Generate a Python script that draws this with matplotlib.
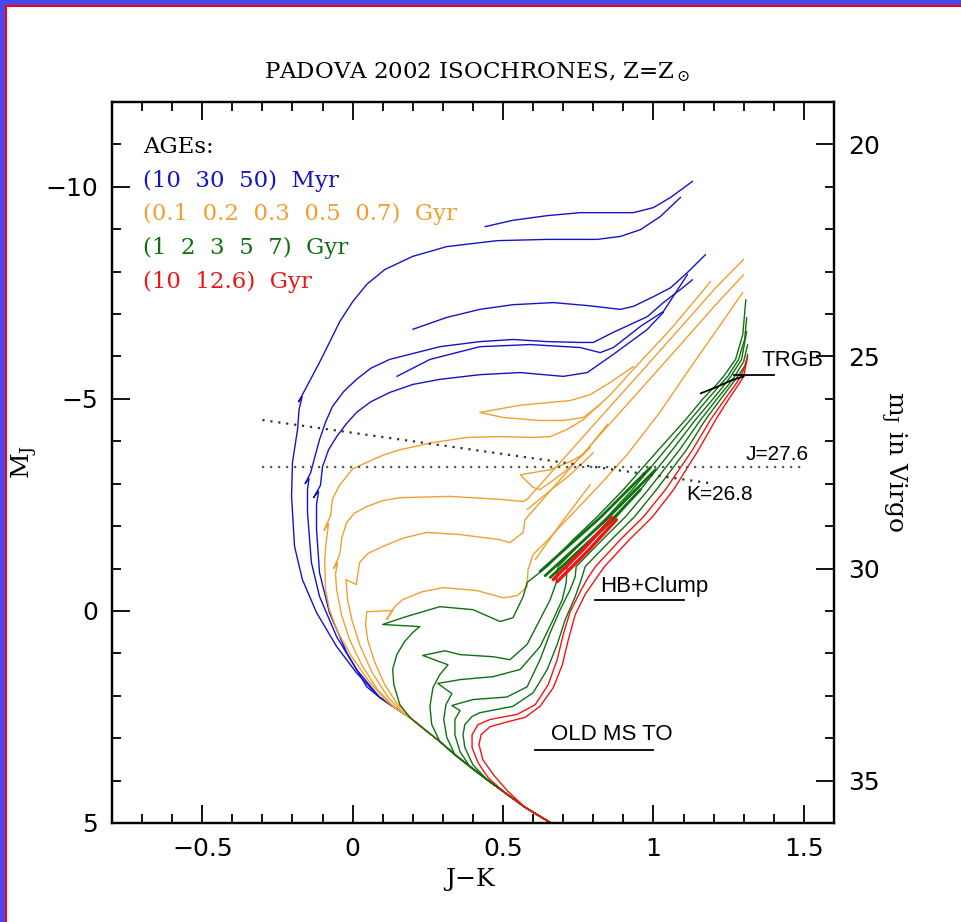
import matplotlib
matplotlib.use("Agg")
import matplotlib.pyplot as plt
from matplotlib.ticker import FixedLocator, FixedFormatter, MultipleLocator
from matplotlib.patches import Rectangle

plt.rcParams["mathtext.fontset"] = "dejavuserif"

# ---- isochrones, points as (J-K, M_J) ----
# lower main sequence shared by all ages
ms_trunk = [(0.657, 4.99), (0.573, 4.63), (0.507, 4.29), (0.447, 3.98), (0.39, 3.67),
            (0.34, 3.39), (0.29, 3.08), (0.24, 2.80), (0.19, 2.51), (0.14, 2.28), (0.09, 2.04)]

# 10, 30, 50 Myr
blue_10 = [(0.013, 1.46), (-0.053, 0.84), (-0.12, 0.04), (-0.167, -0.74), (-0.193, -1.52),
           (-0.203, -2.70), (-0.2, -3.50), (-0.183, -4.28), (-0.178, -4.75), (-0.168, -5.05),
           (-0.18, -4.93), (-0.163, -5.15), (-0.11, -5.86), (-0.077, -6.33), (-0.043, -6.82),
           (0.0, -7.29), (0.047, -7.70), (0.107, -8.05), (0.2, -8.36), (0.313, -8.59),
           (0.48, -8.73), (0.647, -8.76), (0.813, -8.76), (0.89, -8.83), (0.957, -8.99),
           (1.023, -9.30), (1.09, -9.75)]
blue_10_loop = [(0.44, -9.06), (0.533, -9.21), (0.647, -9.32), (0.757, -9.39), (0.867, -9.39),
                (0.933, -9.39), (1.0, -9.51), (1.057, -9.75), (1.13, -10.13)]
blue_30 = [(0.013, 1.38), (-0.053, 0.61), (-0.11, -0.34), (-0.137, -1.14), (-0.15, -2.32),
           (-0.15, -2.86), (-0.145, -3.12), (-0.158, -3.0), (-0.14, -3.25), (-0.11, -4.04),
           (-0.09, -4.45), (-0.067, -4.82), (-0.03, -5.17), (0.013, -5.46), (0.06, -5.72),
           (0.123, -5.93), (0.29, -6.23), (0.423, -6.35), (0.533, -6.40), (0.647, -6.35),
           (0.757, -6.33), (0.80, -6.33), (0.867, -6.57), (0.98, -6.94), (1.033, -7.27),
           (1.09, -7.58), (1.13, -7.81)]
blue_30_loop = [(0.2, -6.64), (0.313, -6.92), (0.423, -7.11), (0.533, -7.22), (0.667, -7.27),
                (0.78, -7.20), (0.89, -7.11), (0.933, -7.18), (1.0, -7.41), (1.057, -7.62),
                (1.113, -7.98), (1.173, -8.40)]
blue_50 = [(0.047, 1.79), (-0.02, 0.98), (-0.077, 0.04), (-0.11, -0.90), (-0.12, -1.92),
           (-0.12, -2.51), (-0.113, -2.82), (-0.13, -2.67), (-0.107, -2.96), (-0.10, -3.40),
           (-0.08, -3.80), (-0.053, -4.11), (-0.02, -4.42), (0.013, -4.68), (0.06, -4.93),
           (0.123, -5.15), (0.2, -5.34), (0.29, -5.46), (0.423, -5.57), (0.557, -5.62),
           (0.70, -5.53), (0.78, -5.62), (0.867, -6.05), (0.98, -6.64), (1.033, -7.04)]
blue_50_loop = [(0.147, -5.53), (0.257, -5.93), (0.423, -6.23), (0.59, -6.28), (0.757, -6.21),
                (0.823, -6.09), (0.867, -6.21), (0.957, -6.71), (1.033, -7.06), (1.113, -7.93)]

# 0.1 - 0.7 Gyr
orange_a = [(0.107, 2.09), (0.05, 1.62), (-0.003, 1.08), (-0.05, 0.49), (-0.077, -0.03),
            (-0.09, -0.50), (-0.093, -1.21), (-0.087, -1.68), (-0.08, -2.06), (-0.095, -1.90),
            (-0.073, -2.25), (-0.067, -2.63), (-0.045, -2.95), (-0.02, -3.17), (0.0, -3.35),
            (0.047, -3.50), (0.1, -3.67), (0.157, -3.80), (0.267, -3.97), (0.38, -4.09),
            (0.49, -4.11), (0.60, -4.09), (0.657, -4.11), (0.713, -4.28), (0.767, -4.51),
            (0.857, -5.10), (0.957, -5.88), (1.057, -6.64), (1.14, -7.34), (1.19, -7.77)]
orange_b = [(0.083, 1.86), (0.03, 1.27), (-0.01, 0.68), (-0.037, 0.09), (-0.053, -0.50),
            (-0.057, -0.86), (-0.05, -1.14), (-0.063, -1.00), (-0.043, -1.33), (-0.035, -1.75),
            (-0.02, -2.08), (0.005, -2.30), (0.047, -2.46), (0.1, -2.60), (0.157, -2.67),
            (0.323, -2.70), (0.49, -2.63), (0.567, -2.58), (0.58, -2.63), (0.69, -3.50),
            (0.823, -4.56), (0.957, -5.62), (1.09, -6.68), (1.207, -7.62), (1.30, -8.29)]
orange_c = [(0.173, 2.44), (0.117, 2.03), (0.063, 1.43), (0.023, 0.79), (-0.003, 0.20),
            (-0.017, -0.27), (-0.022, -0.74), (0.012, -0.62), (0.023, -1.14), (0.05, -1.35),
            (0.1, -1.52), (0.17, -1.72), (0.247, -1.85), (0.357, -1.80), (0.49, -1.68),
            (0.523, -1.61), (0.567, -1.85), (0.573, -2.15), (0.69, -3.10), (0.823, -4.16),
            (0.957, -5.22), (1.09, -6.28), (1.207, -7.22), (1.30, -7.93)]
orange_d = [(0.207, 2.61), (0.15, 2.21), (0.107, 1.74), (0.073, 1.20), (0.05, 0.68),
            (0.043, 0.32), (0.047, 0.02), (0.133, -0.01), (0.113, 0.20), (0.14, -0.10),
            (0.167, -0.27), (0.23, -0.45), (0.30, -0.55), (0.413, -0.48), (0.50, -0.31),
            (0.547, -0.36), (0.58, -0.57), (0.583, -0.97), (0.60, -1.33), (0.64, -1.61),
            (0.69, -1.99), (0.823, -2.98), (0.913, -3.69), (1.023, -4.70), (1.123, -5.74),
            (1.223, -6.75), (1.297, -7.51)]
orange_loop_1 = [(0.933, -5.76), (0.857, -5.39), (0.79, -5.10), (0.723, -4.96), (0.557, -4.85),
                 (0.423, -4.68), (0.50, -4.56), (0.623, -4.49), (0.70, -4.49), (0.767, -4.56),
                 (0.823, -4.87)]
orange_loop_2 = [(0.847, -4.40), (0.767, -3.69), (0.723, -3.52), (0.657, -3.33), (0.557, -3.21),
                 (0.60, -2.91), (0.623, -2.86), (0.657, -3.03), (0.713, -3.33), (0.79, -3.85)]
orange_loop_3 = [(0.58, -2.39), (0.64, -2.74), (0.723, -3.21), (0.80, -3.73)]
orange_loop_4 = [(0.607, -1.21), (0.69, -2.04), (0.79, -2.98)]

# 1, 2, 3, 5, 7 Gyr
green_1 = [(0.157, 2.21), (0.137, 1.74), (0.133, 1.38), (0.147, 1.03), (0.173, 0.72),
           (0.20, 0.51), (0.223, 0.37), (0.10, 0.32), (0.18, 0.13), (0.29, -0.10),
           (0.40, -0.03), (0.49, 0.25), (0.533, 0.16), (0.567, -0.34), (0.58, -0.67),
           (0.647, -1.045), (0.733, -1.68), (0.813, -2.22), (0.90, -2.86), (1.017, -3.80),
           (1.107, -4.51), (1.163, -4.99), (1.21, -5.34), (1.233, -5.53), (1.273, -5.93),
           (1.297, -6.52), (1.307, -7.34)]
green_2 = [(0.263, 2.68), (0.257, 2.25), (0.267, 1.81), (0.29, 1.50), (0.317, 1.27),
           (0.233, 1.05), (0.307, 0.94), (0.357, 1.03), (0.467, 1.08), (0.523, 1.15),
           (0.58, 0.79), (0.623, 0.20), (0.657, -0.27), (0.677, -0.67), (0.683, -1.045),
           (0.77, -1.68), (0.847, -2.22), (0.93, -2.86), (1.04, -3.80), (1.123, -4.51),
           (1.18, -4.99), (1.223, -5.34), (1.247, -5.53), (1.283, -5.93), (1.303, -6.40),
           (1.31, -6.92)]
green_3 = [(0.313, 2.98), (0.303, 2.56), (0.31, 2.21), (0.33, 1.95), (0.283, 1.71),
           (0.357, 1.62), (0.467, 1.55), (0.557, 1.38), (0.623, 0.84), (0.667, 0.20),
           (0.697, -0.27), (0.71, -0.67), (0.713, -1.045), (0.80, -1.68), (0.877, -2.22),
           (0.957, -2.86), (1.063, -3.80), (1.14, -4.51), (1.197, -4.99), (1.237, -5.34),
           (1.257, -5.53), (1.293, -5.93), (1.31, -6.59)]
green_5 = [(0.357, 3.32), (0.34, 2.92), (0.34, 2.56), (0.357, 2.35), (0.33, 2.23),
           (0.40, 2.09), (0.513, 2.03), (0.58, 1.79), (0.623, 1.15), (0.657, 0.51),
           (0.69, -0.03), (0.723, -0.50), (0.74, -0.81), (0.743, -1.045), (0.83, -1.68),
           (0.907, -2.22), (0.983, -2.86), (1.087, -3.80), (1.157, -4.51), (1.21, -4.99),
           (1.25, -5.34), (1.27, -5.53), (1.30, -5.88), (1.313, -6.28)]
green_7 = [(0.40, 3.63), (0.373, 3.22), (0.367, 2.92), (0.373, 2.68), (0.397, 2.49),
           (0.423, 2.40), (0.533, 2.25), (0.60, 1.93), (0.647, 1.38), (0.68, 0.79),
           (0.707, 0.20), (0.74, -0.34), (0.76, -0.74), (0.773, -1.045), (0.86, -1.68),
           (0.937, -2.22), (1.01, -2.86), (1.11, -3.80), (1.173, -4.51), (1.223, -4.99),
           (1.26, -5.34), (1.28, -5.53), (1.307, -5.81), (1.313, -6.05)]
green_clumps = [[(0.623, -0.93), (0.823, -2.20), (0.99, -3.38)],
                [(0.64, -0.83), (0.84, -2.13), (1.007, -3.33)],
                [(0.657, -0.79), (0.857, -2.11), (0.957, -2.86)]]

# 10, 12.6 Gyr
red_10 = [(0.45, 3.93), (0.417, 3.58), (0.397, 3.22), (0.397, 2.92), (0.417, 2.68),
          (0.457, 2.56), (0.547, 2.44), (0.607, 2.21), (0.65, 1.74), (0.68, 1.15),
          (0.70, 0.56), (0.723, 0.02), (0.757, -0.46), (0.783, -0.79), (0.807, -1.045),
          (0.89, -1.68), (0.967, -2.22), (1.04, -2.86), (1.13, -3.80), (1.19, -4.51),
          (1.237, -4.99), (1.273, -5.34), (1.29, -5.53), (1.30, -5.69), (1.31, -5.93)]
red_126 = [(0.517, 4.26), (0.47, 3.88), (0.433, 3.51), (0.42, 3.15), (0.427, 2.92),
           (0.457, 2.73), (0.507, 2.63), (0.573, 2.51), (0.623, 2.25), (0.667, 1.81),
           (0.697, 1.27), (0.717, 0.68), (0.74, 0.09), (0.773, -0.39), (0.807, -0.74),
           (0.837, -1.045), (0.92, -1.68), (0.997, -2.22), (1.067, -2.86), (1.15, -3.80),
           (1.207, -4.51), (1.25, -4.99), (1.283, -5.34), (1.30, -5.53), (1.313, -6.00)]
red_clumps = [[(0.667, -0.74), (0.767, -1.45), (0.863, -2.20)],
              [(0.68, -0.69), (0.78, -1.40), (0.877, -2.15)]]

trgb_curve = [(1.157, -5.13), (1.207, -5.27), (1.257, -5.43), (1.30, -5.53)]

# limit lines
j_limit_jk = [-0.3, 1.5]
j_limit_mj = [-3.4, -3.4]
k_limit_jk = [-0.3, 1.2]
k_limit_mj = [-4.5, -3.0]

BLUE = "#1414c8"
ORANGE = "#f0a030"
GREEN = "#107010"
RED = "#f01414"


def draw(ax, pts, color, lw=1.0):
	xs = [p[0] for p in pts]
	ys = [p[1] for p in pts]
	ax.plot(xs, ys, color=color, lw=lw, solid_joinstyle="round", solid_capstyle="round")


def main():
	fig = plt.figure(figsize=(9.61, 9.22), dpi=100)

	# window border of the original screenshot
	fig.add_artist(Rectangle((0, 1 - 5 / 922), 1, 5 / 922, transform=fig.transFigure, color="#4848ee", lw=0))
	fig.add_artist(Rectangle((5 / 961, 1 - 7 / 922), 1, 2 / 922, transform=fig.transFigure, color="#ff0000", lw=0))
	fig.add_artist(Rectangle((0, 0), 5 / 961, 1, transform=fig.transFigure, color="#4848ee", lw=0))
	fig.add_artist(Rectangle((5 / 961, 0), 2 / 961, 1 - 5 / 922, transform=fig.transFigure, color="#ff0000", lw=0))

	ax = fig.add_axes([0.1165, 0.1074, 0.7513, 0.782])
	ax.set_xlim(-0.8, 1.6)
	ax.set_ylim(5, -12)

	# blue
	draw(ax, ms_trunk + blue_10, BLUE)
	draw(ax, blue_10_loop, BLUE)
	draw(ax, ms_trunk + blue_30, BLUE)
	draw(ax, blue_30_loop, BLUE)
	draw(ax, ms_trunk + blue_50, BLUE)
	draw(ax, blue_50_loop, BLUE)

	# orange
	draw(ax, ms_trunk[:10] + orange_a, ORANGE)
	draw(ax, ms_trunk[:10] + orange_b, ORANGE)
	draw(ax, ms_trunk[:9] + orange_c, ORANGE)
	draw(ax, ms_trunk[:8] + orange_d, ORANGE)
	for loop in [orange_loop_1, orange_loop_2, orange_loop_3, orange_loop_4]:
		draw(ax, loop, ORANGE)

	# green
	draw(ax, ms_trunk[:9] + green_1, GREEN)
	draw(ax, ms_trunk[:7] + green_2, GREEN)
	draw(ax, ms_trunk[:6] + green_3, GREEN)
	draw(ax, ms_trunk[:5] + green_5, GREEN)
	draw(ax, ms_trunk[:4] + green_7, GREEN)
	for c in green_clumps:
		draw(ax, c, GREEN, lw=2.0)

	# red
	draw(ax, ms_trunk[:3] + red_10, RED)
	draw(ax, ms_trunk[:2] + red_126, RED)
	for c in red_clumps:
		draw(ax, c, RED, lw=2.4)

	draw(ax, trgb_curve, "black", lw=1.3)

	ax.plot(j_limit_jk, j_limit_mj, ls=(0, (1, 2.6)), color="0.35", lw=1.6)
	ax.plot(k_limit_jk, k_limit_mj, ls=(0, (1, 2.6)), color="0.2", lw=1.6)

	# annotations
	sans = "Liberation Sans"
	ax.plot([1.267, 1.40], [-5.57, -5.57], color="black", lw=1.3)
	ax.text(1.36, -5.9, "TRGB", family=sans, fontsize=16, ha="left", va="center")
	ax.text(1.307, -3.69, "J=27.6", family=sans, fontsize=15, ha="left", va="center")
	ax.text(1.11, -2.74, "K=26.8", family=sans, fontsize=15, ha="left", va="center")
	ax.plot([0.807, 1.10], [-0.25, -0.25], color="black", lw=1.3)
	ax.text(0.823, -0.57, "HB+Clump", family=sans, fontsize=16, ha="left", va="center")
	ax.plot([0.607, 1.0], [3.27, 3.27], color="black", lw=1.3)
	ax.text(0.66, 2.91, "OLD MS TO", family=sans, fontsize=16, ha="left", va="center")

	# legend
	serif = "DejaVu Serif"
	ax.text(0.043, 0.9376, "AGEs:", transform=ax.transAxes, family=serif, fontsize=16.5, va="center")
	ax.text(0.043, 0.890, "(10  30  50)  Myr", transform=ax.transAxes, family=serif, fontsize=16.5, va="center", color=BLUE)
	ax.text(0.043, 0.844, "(0.1  0.2  0.3  0.5  0.7)  Gyr", transform=ax.transAxes, family=serif, fontsize=16.5, va="center", color=ORANGE)
	ax.text(0.043, 0.797, "(1  2  3  5  7)  Gyr", transform=ax.transAxes, family=serif, fontsize=16.5, va="center", color=GREEN)
	ax.text(0.043, 0.750, "(10  12.6)  Gyr", transform=ax.transAxes, family=serif, fontsize=16.5, va="center", color=RED)

	# axes
	ax.xaxis.set_major_locator(FixedLocator([-0.5, 0, 0.5, 1, 1.5]))
	ax.xaxis.set_major_formatter(FixedFormatter(["\u22120.5", "0", "0.5", "1", "1.5"]))
	ax.xaxis.set_minor_locator(MultipleLocator(0.1))
	ax.yaxis.set_major_locator(FixedLocator([-10, -5, 0, 5]))
	ax.yaxis.set_major_formatter(FixedFormatter(["\u221210", "\u22125", "0", "5"]))
	ax.yaxis.set_minor_locator(MultipleLocator(1))
	ax.tick_params(which="both", direction="in", top=True, right=False, width=1.3, labelsize=18)
	ax.tick_params(which="major", length=13, pad=10)
	ax.tick_params(which="minor", length=6.5)
	for s in ax.spines.values():
		s.set_linewidth(1.6)

	ax2 = ax.twinx()
	ax2.set_ylim(5 + 31, -12 + 31)
	ax2.yaxis.set_major_locator(FixedLocator([20, 25, 30, 35]))
	ax2.yaxis.set_minor_locator(MultipleLocator(1))
	ax2.tick_params(which="both", direction="in", width=1.3, labelsize=18)
	ax2.tick_params(which="major", length=13, pad=10)
	ax2.tick_params(which="minor", length=6.5)
	for s in ax2.spines.values():
		s.set_linewidth(1.6)

	fig.text(0.4964, 0.922, r"PADOVA 2002 ISOCHRONES, Z=Z$_\odot$", family=serif, fontsize=16.5, ha="center", va="center")
	fig.text(0.489, 0.046, "J\u2212K", family=serif, fontsize=18, ha="center", va="center")
	fig.text(0.026, 0.499, r"M$_\mathrm{J}$", family=serif, fontsize=18, rotation=90, ha="center", va="center")
	fig.text(0.929, 0.499, r"m$_\mathrm{J}$ in Virgo", family=serif, fontsize=18, rotation=-90, ha="center", va="center")

	fig.savefig("out.png", dpi=100)


if __name__ == "__main__":
	main()
